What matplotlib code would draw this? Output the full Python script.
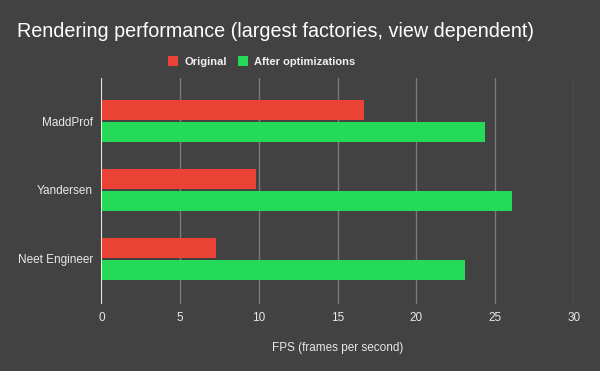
import matplotlib.pyplot as plt
import numpy as np

plt.rcParams['font.family'] = ['Liberation Sans', 'DejaVu Sans']

categories = ["MaddProf", "Yandersen", "Neet Engineer"]
original = [16.7, 9.8, 7.3]
optimized = [24.4, 26.1, 23.1]
xticks = [0, 5, 10, 15, 20, 25, 30]

bg = "#424242"
red = "#ea4335"
green = "#24da58"

fig = plt.figure(figsize=(6, 3.71), dpi=100, facecolor=bg)
ax = fig.add_axes([0.169, 0.1806, 0.787, 0.6094], facecolor=bg)

y = np.arange(len(categories))
h = 0.292
ax.barh(y - h / 2 - 0.015, original, height=h, color=red, label="Original", zorder=3)
ax.barh(y + h / 2 + 0.015, optimized, height=h, color=green, label="After optimizations", zorder=3)

ax.set_xlim(0, 30)
ax.set_ylim(2.66, -0.63)
ax.set_xticks(xticks)
ax.set_yticks(y)
ax.set_yticklabels(categories)
ax.grid(axis="x", color="#7a7a7a", linewidth=1, zorder=0)
ax.axvline(0, color="white", linewidth=1.2, zorder=4)
for s in ax.spines.values():
    s.set_visible(False)
ax.tick_params(axis="both", length=0, colors="#e8e8e8", labelsize=8.5)
ax.tick_params(axis="x", pad=6)
ax.tick_params(axis="y", pad=6)
ax.set_xlabel("FPS (frames per second)", color="#e8e8e8", fontsize=8.5, labelpad=13)

fig.text(0.028, 0.915, "Rendering performance (largest factories, view dependent)",
         color="white", fontsize=14.2, va="center", ha="left")

fig.legend(loc="center", bbox_to_anchor=(0.436, 0.834), ncol=2, frameon=False,
           prop={"size": 8, "weight": "bold"}, labelcolor="#f0f0f0",
           handlelength=0.9, handleheight=0.9, handletextpad=0.6, columnspacing=1.0)

fig.savefig("out.png", dpi=100, facecolor=bg)
